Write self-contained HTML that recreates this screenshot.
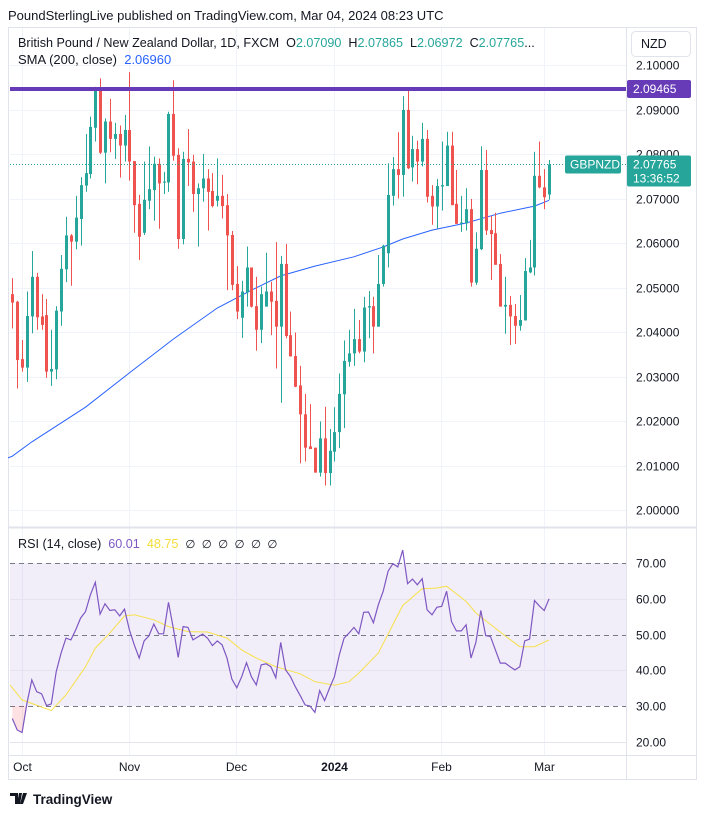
<!DOCTYPE html>
<html><head><meta charset="utf-8"><style>
body{margin:0;background:#fff;font-family:"Liberation Sans",sans-serif;}
svg{display:block}
text{font-family:"Liberation Sans",sans-serif;}
</style></head><body>
<svg id="c" width="706" height="815" viewBox="0 0 706 815">
<rect x="0" y="0" width="706" height="815" fill="#fff"/>
<text x="8" y="20" font-size="13" fill="#131722">PoundSterlingLive published on TradingView.com, Mar 04, 2024 08:23 UTC</text>
<rect x="8.5" y="27.5" width="688" height="752" fill="none" stroke="#e0e3eb"/>
<g id="grid"></g>
<rect x="10" y="563" width="616" height="143" fill="rgba(126,87,194,0.1)"/>
<g id="rsigrid"></g>
<line x1="626.5" y1="28" x2="626.5" y2="780" stroke="#e0e3eb"/>
<line x1="9" y1="527.5" x2="696" y2="527.5" stroke="#e0e3eb" stroke-width="2"/>
<line x1="9" y1="755.5" x2="696" y2="755.5" stroke="#e0e3eb"/>
<g id="main"></g>
<g id="rsi"></g>
<g id="axes"></g>
<text x="18" y="47" font-size="12.6" fill="#131722" xml:space="preserve">British Pound / New Zealand Dollar, 1D, FXCM  O<tspan fill="#26a69a">2.07090</tspan>  H<tspan fill="#26a69a">2.07865</tspan>  L<tspan fill="#26a69a">2.06972</tspan>  C<tspan fill="#26a69a">2.07765</tspan>...</text>
<text x="18" y="64" font-size="13" fill="#131722" xml:space="preserve">SMA (200, close)  <tspan fill="#2962ff">2.06960</tspan></text>
<text x="18" y="548" font-size="12.6" fill="#131722" xml:space="preserve">RSI (14, close)  <tspan fill="#7e57c2">60.01</tspan>  <tspan fill="#f5dd3a">48.75</tspan>  <tspan font-size="11.5">∅  ∅  ∅  ∅  ∅  ∅</tspan></text>
<rect x="631.5" y="31.5" width="59" height="25" rx="4" fill="#fff" stroke="#e0e3eb"/>
<text x="641" y="48" font-size="12.5" fill="#131722">NZD</text>
<g>
<path d="M10 793h8v11h-3v-8h-5z M19 793h3l-2 11h-3z M23 793h4l-4 11h-3z" fill="#131722"/>
<text x="33" y="804" font-size="13.5" font-weight="bold" fill="#131722">TradingView</text>
</g>
</svg>
<script>
const opens=[2.0485,2.0468,2.0339,2.0320,2.0435,2.0524,2.0435,2.0438,2.0311,2.0316,2.0446,2.0541,2.0617,2.0603,2.0654,2.0729,2.0755,2.0859,2.0949,2.0803,2.0873,2.0834,2.0845,2.0819,2.0854,2.0784,2.0688,2.0623,2.0695,2.0719,2.0778,2.0736,2.0736,2.0890,2.0798,2.0609,2.0789,2.0783,2.0710,2.0723,2.0745,2.0717,2.0695,2.0706,2.0685,2.0618,2.0508,2.0432,2.0489,2.0545,2.0458,2.0405,2.0457,2.0491,2.0470,2.0412,2.0553,2.0393,2.0346,2.0280,2.0215,2.0143,2.0140,2.0084,2.0161,2.0083,2.0131,2.0175,2.0260,2.0333,2.0352,2.0384,2.0356,2.0455,2.0458,2.0412,2.0508,2.0577,2.0706,2.0766,2.0753,2.0899,2.0770,2.0811,2.0783,2.0834,2.0706,2.0682,2.0727,2.0728,2.0819,2.0688,2.0644,2.0644,2.0676,2.0511,2.0586,2.0764,2.0629,2.0622,2.0553,2.0457,2.0461,2.0436,2.0414,2.0426,2.0534,2.0545,2.0751,2.0725,2.0709];
const highs=[2.0521,2.0470,2.0382,2.0491,2.0582,2.0533,2.0485,2.0474,2.0405,2.0458,2.0573,2.0659,2.0620,2.0706,2.0748,2.0845,2.0884,2.0951,2.0970,2.0880,2.0924,2.0870,2.0864,2.0888,2.0984,2.0784,2.0708,2.0783,2.0817,2.0794,2.0790,2.0760,2.0895,2.0966,2.0813,2.0805,2.0856,2.0798,2.0734,2.0800,2.0766,2.0757,2.0790,2.0753,2.0710,2.0627,2.0548,2.0515,2.0592,2.0545,2.0524,2.0502,2.0578,2.0513,2.0602,2.0571,2.0598,2.0446,2.0399,2.0324,2.0261,2.0238,2.0140,2.0199,2.0232,2.0182,2.0231,2.0307,2.0381,2.0405,2.0452,2.0427,2.0479,2.0492,2.0479,2.0573,2.0596,2.0779,2.0793,2.0849,2.0930,2.0942,2.0841,2.0830,2.0870,2.0854,2.0730,2.0744,2.0828,2.0850,2.0850,2.0764,2.0706,2.0723,2.0699,2.0624,2.0817,2.0809,2.0661,2.0668,2.0575,2.0524,2.0481,2.0463,2.0483,2.0566,2.0607,2.0805,2.0828,2.0766,2.07865];
const lows=[2.0408,2.0273,2.0311,2.0288,2.0397,2.0405,2.0405,2.0297,2.0279,2.0294,2.0414,2.0512,2.0504,2.0586,2.0594,2.0715,2.0745,2.0828,2.0800,2.0734,2.0804,2.0789,2.0747,2.0783,2.0740,2.0623,2.0562,2.0618,2.0676,2.0650,2.0632,2.0710,2.0715,2.0785,2.0587,2.0597,2.0728,2.0670,2.0592,2.0693,2.0628,2.0680,2.0682,2.0655,2.0494,2.0494,2.0429,2.0387,2.0457,2.0455,2.0358,2.0375,2.0457,2.0393,2.0318,2.0241,2.0386,2.0345,2.0276,2.0105,2.0109,2.0137,2.0084,2.0075,2.0055,2.0055,2.0109,2.0139,2.0184,2.0322,2.0324,2.0352,2.0332,2.0386,2.0352,2.0412,2.0502,2.0545,2.0684,2.0700,2.0704,2.0766,2.0738,2.0732,2.0772,2.0691,2.0641,2.0632,2.0673,2.0728,2.0685,2.0643,2.0625,2.0628,2.0502,2.0506,2.0584,2.0618,2.0517,2.0551,2.0457,2.0396,2.0371,2.0373,2.0403,2.0426,2.0532,2.0527,2.0723,2.0676,2.06972];
const closes=[2.0466,2.0337,2.0320,2.0436,2.0524,2.0433,2.0416,2.0311,2.0317,2.0448,2.0542,2.0617,2.0603,2.0657,2.0730,2.0757,2.0861,2.0949,2.0803,2.0873,2.0834,2.0845,2.0819,2.0854,2.0783,2.0685,2.0614,2.0697,2.0721,2.0778,2.0734,2.0738,2.0890,2.0796,2.0609,2.0789,2.0781,2.0710,2.0723,2.0745,2.0715,2.0683,2.0706,2.0683,2.0617,2.0506,2.0446,2.0491,2.0545,2.0457,2.0405,2.0485,2.0491,2.0468,2.0412,2.0553,2.0391,2.0345,2.0277,2.0215,2.0140,2.0137,2.0084,2.0161,2.0083,2.0133,2.0175,2.0261,2.0335,2.0352,2.0384,2.0356,2.0455,2.0458,2.0412,2.0508,2.0594,2.0708,2.0766,2.0753,2.0899,2.0768,2.0811,2.0783,2.0834,2.0704,2.0682,2.0728,2.0730,2.0819,2.0685,2.0643,2.0646,2.0676,2.0511,2.0587,2.0764,2.0628,2.0620,2.0551,2.0457,2.0461,2.0435,2.0414,2.0427,2.0537,2.0545,2.0751,2.0725,2.0703,2.07765];
const smaIdx=[0,4,15,24,33,42,49,55,62,70,76,80,86,93,100,107,110];
const smaVal=[2.0121,2.0153,2.0231,2.0308,2.0384,2.0454,2.0494,2.0526,2.0548,2.0569,2.0591,2.0609,2.0629,2.0645,2.0667,2.0683,2.0696];
const rsiVals=[26.5,23.3,22.6,30.7,37.3,34.0,33.4,30.1,30.6,39.6,44.8,49.0,48.5,51.3,54.6,56.4,61.1,64.6,55.7,58.6,56.7,56.9,55.2,57.1,51.3,47.1,43.4,48.2,49.6,52.9,50.2,50.2,59.0,51.8,43.6,52.2,52.0,48.5,49.3,50.1,49.0,46.9,48.2,47.1,43.4,37.5,35.1,38.2,42.1,38.2,35.9,41.5,41.8,41.0,37.9,47.8,40.1,38.2,35.4,32.9,30.3,30.0,28.2,34.3,31.5,35.0,38.2,44.3,49.0,50.4,52.0,50.2,56.2,56.3,53.3,58.3,62.1,67.7,69.8,68.9,73.6,64.2,65.5,63.9,65.6,56.9,55.5,57.6,57.9,62.1,53.6,51.0,51.0,52.7,43.4,47.8,56.7,49.7,49.4,45.7,42.0,42.0,41.0,40.1,41.0,48.2,48.7,59.5,58.0,56.7,60.0];
const rsiMaIdx=[0,2,8,11,15,17,20,23,25,29,32,36,40,44,47,50,54,59,62,66,69,71,75,80,84,87,89,93,95,101,104,107,110];
const rsiMaVal=[35.9,31.7,28.7,33.1,41.0,46.2,50.4,55.2,55.5,54.1,52.2,50.8,50.7,49.0,45.7,43.4,41.0,39.0,36.8,35.8,36.8,39.2,44.8,58.1,62.8,63.0,63.5,59.3,56.0,49.6,46.6,46.6,48.5];
const priceTicks=[2.10,2.09,2.08,2.07,2.06,2.05,2.04,2.03,2.02,2.01,2.00];
const rsiTicks=[70,60,50,40,30,20];
const monthLabels=["Oct","Nov","Dec","2024","Feb","Mar"];
const monthIdx=[2,24,46,66,88,109];

const NS="http://www.w3.org/2000/svg";
const X=i=>12.3+4.88*i;
const Y=p=>65+(2.1-p)*4450;
const RY=v=>563+(70-v)*3.575;
function el(tag,attrs,parent){const e=document.createElementNS(NS,tag);for(const k in attrs)e.setAttribute(k,attrs[k]);parent.appendChild(e);return e;}
const grid=document.getElementById('grid'),main=document.getElementById('main'),rsi=document.getElementById('rsi'),axes=document.getElementById('axes'),rg=document.getElementById('rsigrid');

priceTicks.forEach(t=>{
  const y=Math.round(Y(t))+0.5;
  const l=el('line',{x1:10,x2:626,y1:y,y2:y,stroke:'#f0f3fa'},grid);
  
  
  const tx=el('text',{x:636,y:y+4,'font-size':12,fill:'#131722'},axes);
  tx.textContent=t.toFixed(5);
  
  
});
monthIdx.forEach((m,k)=>{
  const x=Math.round(X(m)-0.5)+0.5;
  const l=el('line',{x1:x,x2:x,y1:28,y2:755,stroke:'#f0f3fa'},grid);
  
  
  const tx=el('text',{x:x,y:771,'font-size':12,fill:'#131722','text-anchor':'middle','font-weight':monthLabels[k]==='2024'?'bold':'normal'},axes);
  tx.textContent=monthLabels[k];
  
  
});
rsiTicks.forEach(t=>{
  const y=Math.round(RY(t))+0.5;
  const dashed=(t===70||t===50||t===30);
  const l=el('line',{x1:10,x2:626,y1:y,y2:y,stroke:dashed?'#787b86':'#e6e3ee','stroke-dasharray':dashed?'5,4':'none','stroke-width':1},rg);
  
  
  const tx=el('text',{x:636,y:y+4,'font-size':12,fill:'#131722'},axes);
  tx.textContent=t.toFixed(2);
  
  
});

let d='';smaIdx.forEach((i,k)=>{d+=(k?'L':'M')+X(i).toFixed(1)+' '+Y(smaVal[k]).toFixed(1);});
const sma=el('path',{d:'M8 '+Y(smaVal[0]-0.0004).toFixed(1)+d.replace('M','L'),fill:'none',stroke:'#2962ff','stroke-width':1},main);



opens.forEach((o,i)=>{
  const c=closes[i],h=highs[i],lo=lows[i];
  const up=c>=o,col=up?'#26a69a':'#ef5350';
  const x=Math.round(X(i));
  const g=el('g',{},main);
  
  
  el('rect',{x:x,y:Y(h),width:1,height:Math.max(1,Y(lo)-Y(h)),fill:col},g);
  const top=Y(Math.max(o,c)),bot=Y(Math.min(o,c));
  el('rect',{x:x-1,y:top,width:3,height:Math.max(1,bot-top),fill:col},g);
});

const rl=el('rect',{x:10,y:87,width:616,height:4,fill:'#673ab7'},main);


const rlb=el('rect',{x:627,y:80,width:64,height:18,rx:2,fill:'#673ab7'},axes);


const rlt=el('text',{x:633,y:93,'font-size':12,fill:'#fff'},axes);rlt.textContent='2.09465';



const lp=closes[closes.length-1],ly=Math.round(Y(lp))+0.5;
const dl=el('line',{x1:10,x2:626,y1:ly,y2:ly,stroke:'#26a69a','stroke-dasharray':'1,2'},main);


const sb=el('rect',{x:565,y:ly-9,width:56,height:18,rx:2,fill:'#26a69a'},axes);


const st=el('text',{x:570,y:ly+4,'font-size':12,fill:'#fff'},axes);st.textContent='GBPNZD';


const pb=el('rect',{x:627,y:ly-9,width:64,height:31,rx:2,fill:'#26a69a'},axes);


const pt=el('text',{x:633,y:ly+4,'font-size':12,fill:'#fff'},axes);pt.textContent=lp.toFixed(5);


const ct=el('text',{x:633,y:ly+18,'font-size':12,fill:'#fff'},axes);ct.textContent='13:36:52';



let fd='M'+X(0).toFixed(1)+' '+RY(30);
for(let i=0;i<4;i++){fd+='L'+X(i).toFixed(1)+' '+RY(Math.min(30,rsiVals[i])).toFixed(1);}
fd+='L'+X(3).toFixed(1)+' '+RY(30)+'Z';
const of=el('path',{d:fd,fill:'rgba(242,54,69,0.15)'},rsi);


let md='';rsiMaIdx.forEach((i,k)=>{md+=(k?'L':'M')+(k?X(i):10).toFixed(1)+' '+RY(rsiMaVal[k]).toFixed(1);});
const ma=el('path',{d:md,fill:'none',stroke:'#f7e04b','stroke-width':1},rsi);


let rd='';rsiVals.forEach((v,i)=>{rd+=(i?'L':'M')+X(i).toFixed(1)+' '+RY(v).toFixed(1);});
const rl2=el('path',{d:rd,fill:'none',stroke:'#7e57c2','stroke-width':1.2},rsi);


</script>
</body></html>
